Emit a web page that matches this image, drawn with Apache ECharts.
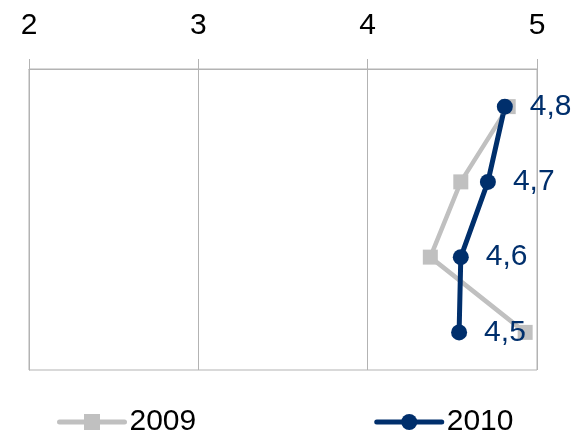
<!DOCTYPE html>
<html><head><meta charset="utf-8">
<script src="https://cdn.jsdelivr.net/npm/echarts@6/dist/echarts.min.js"></script>
<style>html,body{margin:0;padding:0;background:#fff}#c{width:576px;height:435px}</style>
</head><body><div id="c"></div>
<script>
const categories = ['A', 'B', 'C', 'D'];
const xTicks = [2, 3, 4, 5];
const series2009 = [4.83, 4.55, 4.37, 4.93];
const series2010 = [4.81, 4.71, 4.55, 4.54];
const NAVY = '#002F6C', GRAY = '#C0C0C0';
const FONT = 'Liberation Sans, Arial, sans-serif';
const chart = echarts.init(document.getElementById('c'));
chart.setOption({
  animation: false,
  textStyle: { fontFamily: FONT },
  grid: { left: 29, right: 39, top: 69, bottom: 65, show: true, borderColor: '#B3B3B3', borderWidth: 1 },
  legend: {
    left: 52, top: 402, itemWidth: 65, itemHeight: 20, itemGap: 178,
    lineStyle: { width: 5, cap: 'round' },
    textStyle: { fontSize: 30, color: '#000', fontFamily: FONT },
    data: ['2009', '2010']
  },
  xAxis: {
    type: 'value', position: 'top', min: xTicks[0], max: xTicks[xTicks.length-1], interval: 1,
    axisLine: { show: true, lineStyle: { color: '#B3B3B3' } },
    axisTick: { show: true, length: 10, lineStyle: { color: '#B3B3B3' } },
    splitLine: { show: true, lineStyle: { color: '#B3B3B3' } },
    axisLabel: { fontSize: 30, color: '#000', margin: 28, fontFamily: FONT }
  },
  yAxis: {
    type: 'category', data: categories, inverse: true,
    axisLine: { show: true, lineStyle: { color: '#B3B3B3' } },
    axisTick: { show: false }, axisLabel: { show: false }, splitLine: { show: false }
  },
  series: [
    { name: '2009', type: 'line', data: series2009, symbol: 'rect', symbolSize: 15,
      itemStyle: { color: GRAY }, lineStyle: { color: GRAY, width: 4.5, cap: 'round' } },
    { name: '2010', type: 'line', data: series2010, symbol: 'circle', symbolSize: 16,
      itemStyle: { color: NAVY }, lineStyle: { color: NAVY, width: 5, cap: 'round' },
      label: { show: true, position: 'right', distance: 17, fontSize: 30, color: NAVY, fontFamily: FONT,
        formatter: p => (Math.round(p.value * 10) / 10).toFixed(1).replace('.', ',') } }
  ]
});
</script></body></html>
